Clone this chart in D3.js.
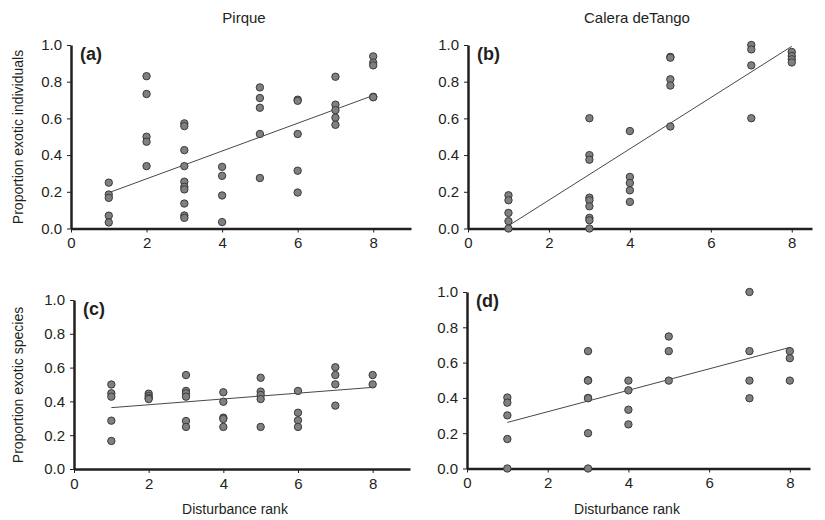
<!DOCTYPE html>
<html>
<head>
<meta charset="utf-8">
<script src="https://cdn.jsdelivr.net/npm/d3@7"></script>
<style>
  body { margin: 0; background: #fff; }
  text { font-family: "Liberation Sans", Arial, sans-serif; fill: #231f20; }
</style>
</head>
<body>
<div id="chart"></div>
<script>
// data
var xTicks = [0, 2, 4, 6, 8];
var yTicks = [0, 0.2, 0.4, 0.6, 0.8, 1.0];
var siteTitles = ["Pirque", "Calera deTango"];
var panelLabels = ["(a)", "(b)", "(c)", "(d)"];

// (a) Pirque, proportion exotic individuals
var aX = [1,1,1,1,1, 2,2,2,2,2, 3,3,3,3,3,3,3,3,3,3, 4,4,4,4, 5,5,5,5,5, 6,6,6,6,6, 7,7,7,7,7, 8,8,8,8,8];
var aY = [0.25,0.185,0.167,0.07,0.033, 0.83,0.733,0.5,0.473,0.34,
  0.573,0.558,0.427,0.34,0.255,0.227,0.213,0.136,0.071,0.058,
  0.336,0.287,0.18,0.035, 0.769,0.711,0.658,0.515,0.275,
  0.702,0.696,0.515,0.315,0.196, 0.827,0.675,0.645,0.604,0.565,
  0.938,0.904,0.889,0.718,0.715];
var aTrend = [[1, 0.195], [8, 0.725]];

// (b) Calera de Tango, proportion exotic individuals
var bX = [1,1,1,1,1, 3,3,3,3,3,3,3,3,3, 4,4,4,4,4, 5,5,5,5,5, 7,7,7,7, 8,8,8,8];
var bY = [0.181,0.154,0.085,0.04,0.0,
  0.601,0.4,0.375,0.168,0.154,0.121,0.058,0.045,0.0,
  0.531,0.281,0.248,0.208,0.145,
  0.935,0.931,0.813,0.779,0.556,
  1.0,0.976,0.889,0.601,
  0.962,0.94,0.922,0.905];
var bTrend = [[1, 0.015], [8, 0.993]];

// (c) Pirque, proportion exotic species
var cX = [1,1,1,1,1, 2,2,2,2, 3,3,3,3,3,3, 4,4,4,4,4, 5,5,5,5,5, 6,6,6,6, 7,7,7,7, 8,8];
var cY = [0.5,0.448,0.428,0.286,0.166,
  0.446,0.432,0.42,0.414,
  0.556,0.462,0.448,0.428,0.284,0.249,
  0.454,0.398,0.304,0.296,0.249,
  0.54,0.458,0.438,0.414,0.249,
  0.462,0.333,0.288,0.249,
  0.602,0.556,0.501,0.375,
  0.556,0.501];
var cTrend = [[1, 0.363], [8, 0.483]];

// (d) Calera de Tango, proportion exotic species
var dX = [1,1,1,1,1, 3,3,3,3,3,3,3, 4,4,4,4, 5,5,5, 7,7,7,7, 8,8,8];
var dY = [0.402,0.373,0.301,0.167,0.0,
  0.665,0.5,0.498,0.4,0.398,0.2,0.0,
  0.498,0.443,0.333,0.25,
  0.748,0.665,0.498,
  1.0,0.665,0.498,0.398,
  0.665,0.625,0.498];
var dTrend = [[1, 0.261], [8, 0.686]];

var svg = d3.select("#chart").append("svg")
  .attr("width", 825)
  .attr("height", 520);

// each panel: pixel box of its axes
var panels = [
  {xs: aX, ys: aY, trend: aTrend, label: panelLabels[0], xr: [71, 411], xd: [0, 9], yr: [228.5, 45]},
  {xs: bX, ys: bY, trend: bTrend, label: panelLabels[1], xr: [468, 812], xd: [0, 8.5], yr: [228.5, 45]},
  {xs: cX, ys: cY, trend: cTrend, label: panelLabels[2], xr: [74, 410], xd: [0, 9], yr: [469, 300]},
  {xs: dX, ys: dY, trend: dTrend, label: panelLabels[3], xr: [467, 810], xd: [0, 8.5], yr: [468.5, 292]}
];

panels.forEach(function(p) {
  var x = d3.scaleLinear().domain(p.xd).range(p.xr);
  var y = d3.scaleLinear().domain([0, 1]).range(p.yr);

  var g = svg.append("g");

  var xAxis = g.append("g")
    .attr("transform", `translate(0, ${p.yr[0]})`)
    .call(d3.axisBottom(x).tickValues(xTicks).tickSize(4).tickPadding(5).tickSizeOuter(0));
  var yAxis = g.append("g")
    .attr("transform", `translate(${p.xr[0]}, 0)`)
    .call(d3.axisLeft(y).tickValues(yTicks).tickFormat(d3.format(".1f")).tickSize(4).tickPadding(5).tickSizeOuter(0));

  [xAxis, yAxis].forEach(function(ax) {
    ax.select(".domain").attr("stroke", "#231f20").attr("stroke-width", 2.5);
    ax.selectAll(".tick line").attr("stroke", "#231f20").attr("stroke-width", 1);
    ax.selectAll(".tick text")
      .attr("font-family", "Liberation Sans, Arial, sans-serif")
      .attr("font-size", 15)
      .attr("fill", "#231f20");
  });

  // regression line
  g.append("line")
    .attr("x1", x(p.trend[0][0]))
    .attr("y1", y(p.trend[0][1]))
    .attr("x2", x(p.trend[1][0]))
    .attr("y2", y(p.trend[1][1]))
    .attr("stroke", "#333")
    .attr("stroke-width", 0.9);

  g.selectAll("circle")
    .data(p.xs.map(function(v, i) { return [v, p.ys[i]]; }))
    .enter()
    .append("circle")
    .attr("cx", d => x(d[0]))
    .attr("cy", d => y(d[1]))
    .attr("r", 3.7)
    .attr("fill", "#808080")
    .attr("stroke", "#3a3a3a")
    .attr("stroke-width", 1);

  g.append("text")
    .attr("x", p.xr[0] + 9)
    .attr("y", p.yr[1] + 15)
    .attr("font-size", 18)
    .attr("font-weight", "bold")
    .text(p.label);
});

// column titles
svg.append("text").attr("x", 244).attr("y", 23).attr("text-anchor", "middle")
  .attr("font-size", 15).text(siteTitles[0]);
svg.append("text").attr("x", 637).attr("y", 23).attr("text-anchor", "middle")
  .attr("font-size", 15).text(siteTitles[1]);

// axis titles
svg.append("text")
  .attr("transform", "translate(23, 137) rotate(-90)")
  .attr("text-anchor", "middle")
  .attr("font-size", 14)
  .text("Proportion exotic individuals");
svg.append("text")
  .attr("transform", "translate(23, 385) rotate(-90)")
  .attr("text-anchor", "middle")
  .attr("font-size", 14)
  .text("Proportion exotic species");
svg.append("text").attr("x", 235).attr("y", 514).attr("text-anchor", "middle")
  .attr("font-size", 14).text("Disturbance rank");
svg.append("text").attr("x", 627).attr("y", 514).attr("text-anchor", "middle")
  .attr("font-size", 14).text("Disturbance rank");
</script>
</body>
</html>
